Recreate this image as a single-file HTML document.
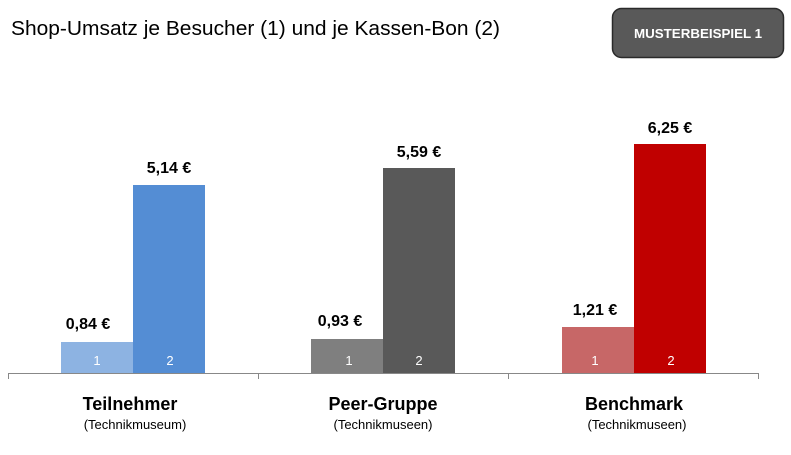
<!DOCTYPE html>
<html><head><meta charset="utf-8"><style>body{margin:0;background:#fff}svg{display:block}</style></head>
<body>
<svg width="791" height="455" xmlns="http://www.w3.org/2000/svg" font-family="Liberation Sans, DejaVu Sans, sans-serif">
<text x="11" y="35" font-size="20" textLength="489" lengthAdjust="spacingAndGlyphs" fill="#000">Shop-Umsatz je Besucher (1) und je Kassen-Bon (2)</text>
<rect x="612.5" y="8.5" width="171" height="49" rx="9" fill="#595959" stroke="#2a2a2a" stroke-width="1.5"/>
<text x="698" y="38" font-size="13" font-weight="bold" fill="#fff" text-anchor="middle" textLength="128" lengthAdjust="spacingAndGlyphs">MUSTERBEISPIEL  1</text>
<rect x="61" y="342" width="72" height="32" fill="#8db3e2"/>
<rect x="133" y="185" width="72" height="189" fill="#548dd4"/>
<rect x="311" y="339" width="72" height="35" fill="#7f7f7f"/>
<rect x="383" y="168" width="72" height="206" fill="#595959"/>
<rect x="562" y="327" width="72" height="47" fill="#c76767"/>
<rect x="634" y="144" width="72" height="230" fill="#c00000"/>
<g font-size="13" fill="#fff" text-anchor="middle">
<text x="97" y="365">1</text><text x="170" y="365">2</text>
<text x="349" y="365">1</text><text x="419" y="365">2</text>
<text x="595" y="365">1</text><text x="671" y="365">2</text>
</g>
<path d="M8 373.5H759M8.5 373V379M258.5 373V379M508.5 373V379M758.5 373V379" stroke="#888" stroke-width="1" fill="none"/>
<g font-size="16" font-weight="bold" fill="#000" text-anchor="middle">
<text x="88" y="329">0,84 €</text><text x="169" y="173">5,14 €</text>
<text x="340" y="326">0,93 €</text><text x="419" y="157">5,59 €</text>
<text x="595" y="315">1,21 €</text><text x="670" y="133">6,25 €</text>
</g>
<g font-size="18" font-weight="bold" fill="#000" text-anchor="middle">
<text x="130" y="410">Teilnehmer</text><text x="383" y="410">Peer-Gruppe</text><text x="634" y="410">Benchmark</text>
</g>
<g font-size="13" fill="#000" text-anchor="middle">
<text x="135" y="429">(Technikmuseum)</text><text x="383" y="429">(Technikmuseen)</text><text x="637" y="429">(Technikmuseen)</text>
</g>
</svg>
</body></html>
